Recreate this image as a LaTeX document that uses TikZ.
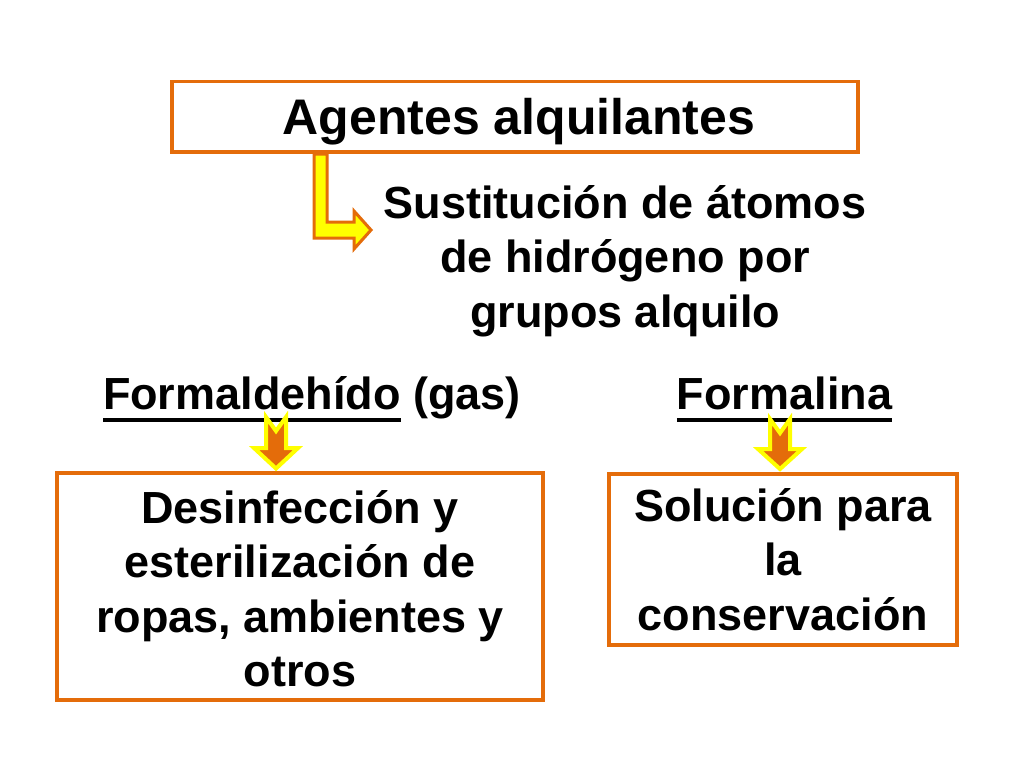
\documentclass[tikz,border=0pt]{standalone}
\usepackage{fontspec}
\setmainfont{Liberation Sans}
\definecolor{orng}{RGB}{228,108,10}
\definecolor{ylw}{RGB}{255,255,0}
\begin{document}
\begin{tikzpicture}[x=1pt,y=-1pt,
  box/.style={draw=orng, line width=3.5pt, inner sep=0pt, outer sep=0pt},
  txt/.style={inner sep=0pt, outer sep=0pt, align=center, anchor=north,
    font=\fontsize{45}{54.5}\selectfont\bfseries},
  lbl/.style={inner sep=0pt, outer sep=0pt, font=\fontsize{45}{54}\selectfont\bfseries},
  ttlstyle/.style={inner sep=0pt, outer sep=0pt, anchor=base, font=\fontsize{50}{60}\selectfont\bfseries},
  uline/.style={line width=4pt, draw=black},
  downarrow/.style={fill=orng, draw=ylw, line width=4pt, line join=miter},
  bentarrow/.style={fill=ylw, draw=orng, line width=3pt, line join=miter}]
\useasboundingbox (0,0) rectangle (1024,768);
\fill[white] (0,0) rectangle (1024,768);

% boxes
\node[box, minimum width=686pt, minimum height=70.5pt] (top) at (515,116.75) {};
\node[box, minimum width=486pt, minimum height=227pt] (lbox) at (300,586.5) {};
\node[box, minimum width=348pt, minimum height=171pt] (rbox) at (783,559.5) {};

% title
\node[ttlstyle] (ttl) at (519,134) {Agentes alquilantes};

% bent arrow
\draw[bentarrow] (314,154) -- (314,238) -- (354,238) -- (354,249) -- (371,230)
  -- (354,211) -- (354,222) -- (327,222) -- (327,154) -- cycle;

% subtitle
\node[txt] (sub) at (625,178) {\rule{0pt}{40pt}Sustitución de átomos\\de hidrógeno por\\grupos alquilo};

% labels
\node[lbl, anchor=base west] (fmd) at (103,409) {Formaldehído};
\node[lbl, anchor=base west] (gas) at ([xshift=12.5pt]fmd.base east) {(gas)};
\draw[uline] ([yshift=-11pt]fmd.base west) -- ([yshift=-11pt]fmd.base east);

\node[lbl, anchor=base] (fma) at (784.5,409) {Formalina};
\draw[uline] ([yshift=-11pt]fma.base west) -- ([yshift=-11pt]fma.base east);

% down arrows
\draw[downarrow, shift={(276,0)}] (-10,417) -- (0,431) -- (10,417) -- (10,448)
  -- (22,448) -- (0,468.5) -- (-22,448) -- (-10,448) -- cycle;
\draw[downarrow, shift={(780,0)}] (-10,419) -- (0,433) -- (10,419) -- (10,449)
  -- (22,449) -- (0,469) -- (-22,449) -- (-10,449) -- cycle;

% box texts
\node[txt] (ltxt) at (300,483) {\rule{0pt}{40pt}Desinfección y\\esterilización de\\ropas, ambientes y\\otros};
\node[txt] (rtxt) at (783,481) {\rule{0pt}{40pt}Solución para\\la\\conservación};
\end{tikzpicture}
\end{document}
